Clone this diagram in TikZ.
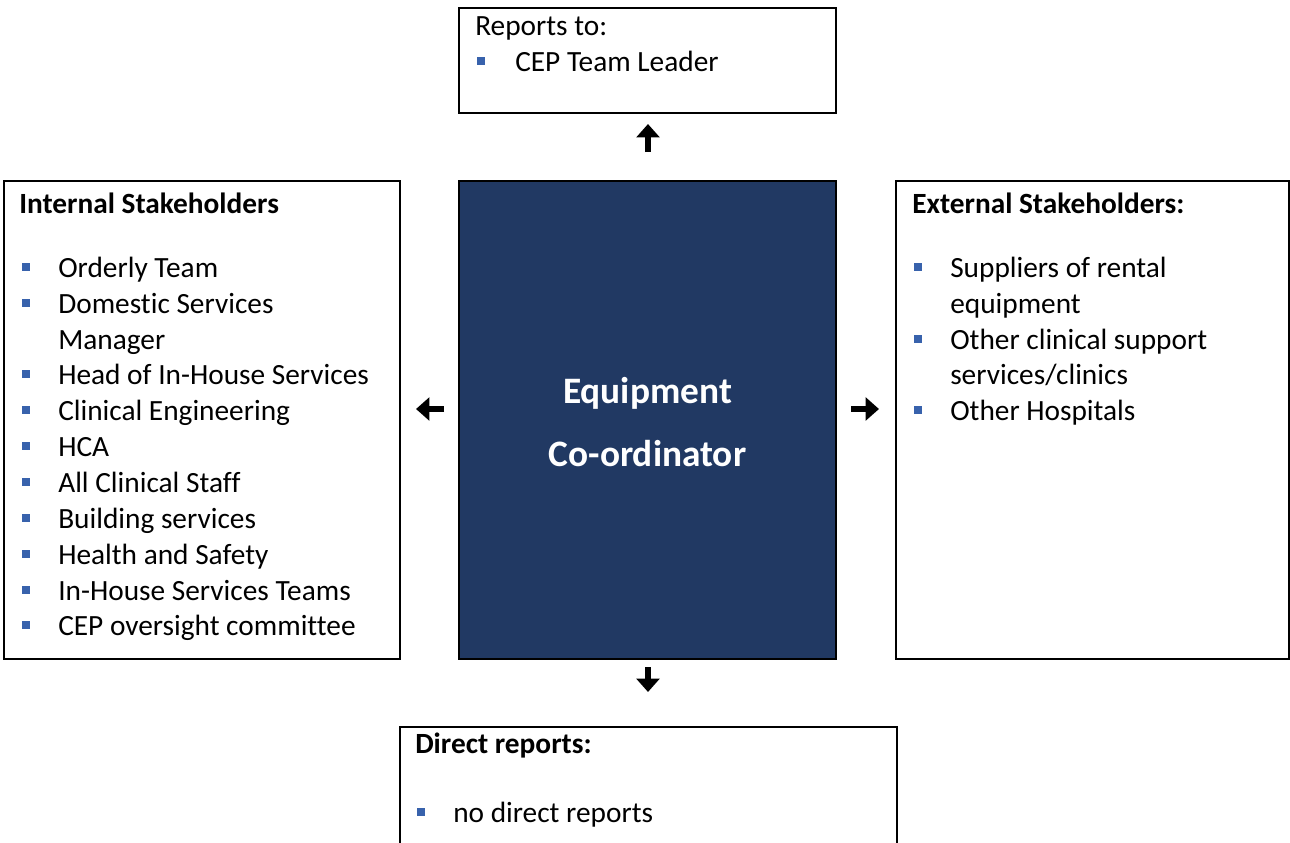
\documentclass[tikz,border=0pt]{standalone}
\usepackage{fontspec}
\setmainfont{Carlito}[Ligatures={NoCommon}]
\usetikzlibrary{arrows.meta}

\definecolor{navy}{RGB}{33,57,99}
\definecolor{bulletblue}{RGB}{56,98,172}

% square list bullet; #1 = x, #2 = text baseline
\newcommand\sqbullet[2]{\fill[bulletblue] (#1,#2-14) rectangle ++(7.5,7.5);}

\begin{document}
\begin{tikzpicture}[x=0.75pt,y=-0.75pt,
  box/.style={draw=black,line width=1.5pt,rectangle,inner sep=0pt,outer sep=0pt},
  body/.style={anchor=base west,inner sep=0pt,font=\fontsize{22}{26.85}\selectfont},
  head/.style={body,font=\fontsize{22}{26.85}\selectfont\bfseries},
  title/.style={anchor=base,inner sep=0pt,text=white,font=\fontsize{28}{34}\selectfont\bfseries},
  flow/.style={line width=4.8pt,-{Triangle[width=17pt,length=10pt]}}]
\useasboundingbox (0,0) rectangle (1290,843);
\clip (0,0) rectangle (1290,843);

% boxes
\node[box,minimum width=282.75pt,minimum height=78.75pt]  (top)    at (647.5,60.5) {};
\node[box,fill=navy,minimum width=282.75pt,minimum height=358.5pt] (centre) at (647.5,420) {};
\node[box,minimum width=297pt,minimum height=358.5pt]     (left)   at (202,420) {};
\node[box,minimum width=294.75pt,minimum height=358.5pt]  (right)  at (1092.5,420) {};
\node[box,minimum width=372.75pt,minimum height=129.75pt] (bottom) at (648.5,813.5) {};

% central role
\node[title] (role1) at (647.5,403) {Equipment};
\node[title] (role2) at (647.5,466.5) {Co-ordinator};

% reports to
\node[body] (rt) at (475,35) {Reports to:};
\sqbullet{477}{71}\node[body] (rt1) at (515,71) {CEP Team Leader};

% internal stakeholders
\node[head] (ih) at (19,213) {Internal Stakeholders};
\sqbullet{22}{277}\node[body] (i1) at (58,277) {Orderly Team};
\sqbullet{22}{313}\node[body] (i2) at (58,313) {Domestic Services};
\node[body] (i2b) at (58,349) {Manager};
\sqbullet{22}{384}\node[body] (i3) at (58,384) {Head of In-House Services};
\sqbullet{22}{420}\node[body] (i4) at (58,420) {Clinical Engineering};
\sqbullet{22}{456}\node[body] (i5) at (58,456) {HCA};
\sqbullet{22}{492}\node[body] (i6) at (58,492) {All Clinical Staff};
\sqbullet{22}{528}\node[body] (i7) at (58,528) {Building services};
\sqbullet{22}{564}\node[body] (i8) at (58,564) {Health and Safety};
\sqbullet{22}{600}\node[body] (i9) at (58,600) {In-House Services Teams};
\sqbullet{22}{635}\node[body] (i10) at (58,635) {CEP oversight committee};

% external stakeholders
\node[head] (eh) at (912,213) {External Stakeholders:};
\sqbullet{914}{277}\node[body] (e1) at (950,277) {Suppliers of rental};
\node[body] (e1b) at (950,313) {equipment};
\sqbullet{914}{349}\node[body] (e2) at (950,349) {Other clinical support};
\node[body] (e2b) at (950,384) {services/clinics};
\sqbullet{914}{420}\node[body] (e3) at (950,420) {Other Hospitals};

% direct reports
\node[head] (dh) at (415,753) {Direct reports:};
\sqbullet{417}{822}\node[body] (d1) at (453,822) {no direct reports};

% arrows between the role and its neighbours
\coordinate (upA) at (648,152);   \coordinate (upB) at (648,124);
\coordinate (dnA) at (648,667);   \coordinate (dnB) at (648,692);
\coordinate (lfA) at (444,409);   \coordinate (lfB) at (416,409);
\coordinate (rtA) at (851,409);   \coordinate (rtB) at (879,409);
\draw[flow] (upA) -- (upB);
\draw[flow] (dnA) -- (dnB);
\draw[flow] (lfA) -- (lfB);
\draw[flow] (rtA) -- (rtB);
\end{tikzpicture}
\end{document}
